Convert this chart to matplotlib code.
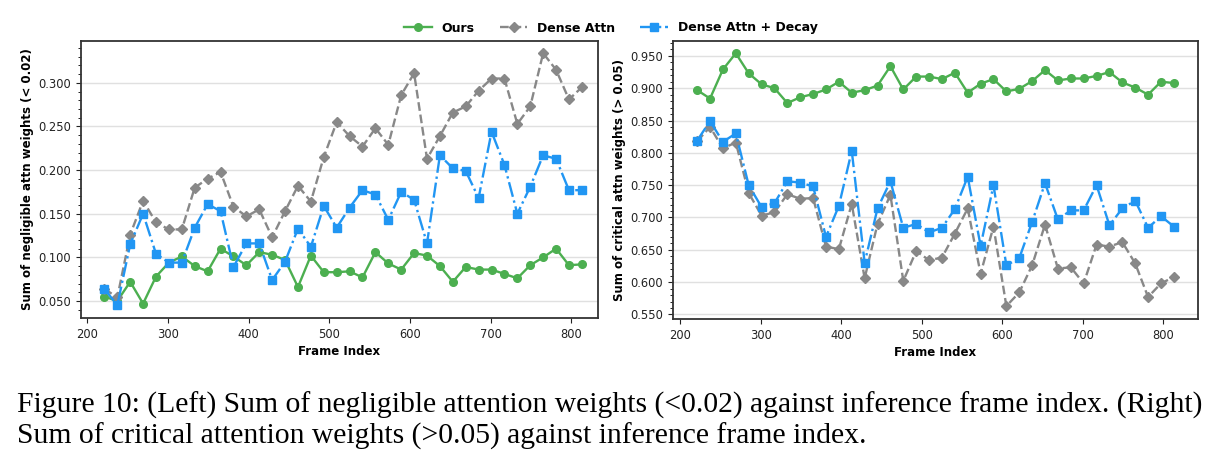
import numpy as np
import matplotlib
matplotlib.use("Agg")
import matplotlib.pyplot as plt
from matplotlib.ticker import MultipleLocator, FormatStrFormatter

# frame indices (38 samples)
frames = [221, 237, 253, 269, 285, 301, 317, 333, 349, 365, 381, 397, 413,
          429, 445, 461, 477, 493, 509, 525, 541, 557, 573, 589, 605, 621,
          637, 653, 669, 685, 701, 717, 733, 749, 765, 781, 797, 813]

# left: sum of negligible attn weights (< 0.02)
neg_ours = [0.055, 0.050, 0.072, 0.047, 0.078, 0.094, 0.101, 0.090, 0.084, 0.110,
            0.101, 0.091, 0.106, 0.103, 0.097, 0.066, 0.102, 0.083, 0.083, 0.084,
            0.077, 0.106, 0.093, 0.086, 0.105, 0.102, 0.090, 0.072, 0.089, 0.086,
            0.086, 0.081, 0.076, 0.091, 0.100, 0.110, 0.091, 0.092]
neg_dense = [0.064, 0.054, 0.126, 0.165, 0.140, 0.132, 0.132, 0.180, 0.190, 0.198,
             0.158, 0.147, 0.155, 0.123, 0.153, 0.182, 0.164, 0.215, 0.255, 0.239,
             0.227, 0.248, 0.229, 0.286, 0.311, 0.213, 0.239, 0.266, 0.273, 0.291,
             0.305, 0.305, 0.253, 0.273, 0.334, 0.315, 0.281, 0.295]
neg_decay = [0.064, 0.045, 0.115, 0.150, 0.104, 0.094, 0.094, 0.134, 0.161, 0.153,
             0.089, 0.116, 0.116, 0.074, 0.095, 0.133, 0.112, 0.159, 0.134, 0.157,
             0.177, 0.172, 0.143, 0.175, 0.166, 0.116, 0.217, 0.202, 0.199, 0.168,
             0.244, 0.206, 0.150, 0.181, 0.217, 0.213, 0.177, 0.177]

# right: sum of critical attn weights (> 0.05)
crit_ours = [0.897, 0.884, 0.929, 0.954, 0.923, 0.906, 0.900, 0.877, 0.886, 0.891,
             0.898, 0.910, 0.893, 0.897, 0.904, 0.934, 0.898, 0.918, 0.918, 0.914,
             0.924, 0.893, 0.907, 0.914, 0.895, 0.899, 0.911, 0.928, 0.912, 0.915,
             0.915, 0.919, 0.925, 0.909, 0.901, 0.890, 0.910, 0.908]
crit_dense = [0.818, 0.840, 0.807, 0.816, 0.738, 0.703, 0.708, 0.736, 0.729, 0.730,
              0.655, 0.651, 0.721, 0.606, 0.690, 0.735, 0.602, 0.648, 0.634, 0.638,
              0.675, 0.714, 0.613, 0.686, 0.563, 0.584, 0.626, 0.689, 0.621, 0.623,
              0.598, 0.658, 0.655, 0.662, 0.629, 0.577, 0.598, 0.608]
crit_decay = [0.819, 0.849, 0.817, 0.830, 0.750, 0.716, 0.722, 0.756, 0.754, 0.748,
              0.670, 0.718, 0.803, 0.630, 0.714, 0.756, 0.684, 0.690, 0.677, 0.684,
              0.713, 0.763, 0.656, 0.750, 0.626, 0.637, 0.693, 0.753, 0.697, 0.711,
              0.711, 0.750, 0.688, 0.714, 0.726, 0.684, 0.702, 0.686]

labels = ["Ours", "Dense Attn", "Dense Attn + Decay"]
colors = ["#4caf50", "#888888", "#2196f3"]
styles = [("-", "o", 5.5), ("--", "D", 5.5), ("-.", "s", 5.5)]

fig = plt.figure(figsize=(12.22, 4.69), dpi=100)
ax_l = fig.add_axes([81 / 1222, 1 - 318 / 469, 517 / 1222, 277 / 469])
ax_r = fig.add_axes([673 / 1222, 1 - 319 / 469, 525 / 1222, 278 / 469])


def draw(ax, series, ylabel):
    for ys, lab, c, (ls, mk, ms) in zip(series, labels, colors, styles):
        ax.plot(frames, ys, linestyle=ls, marker=mk, markersize=ms, color=c,
                linewidth=1.7, label=lab)
    ax.grid(True, axis="y", color="#e0e0e0", linewidth=1.0)
    ax.set_axisbelow(True)
    ax.xaxis.set_major_locator(MultipleLocator(100))
    ax.yaxis.set_minor_locator(MultipleLocator(0.01))
    ax.yaxis.set_major_formatter(FormatStrFormatter("%.3f"))
    ax.tick_params(labelsize=8.3, colors="#222222", length=3.5)
    ax.tick_params(which="minor", length=2)
    for sp in ax.spines.values():
        sp.set_color("#333333")
        sp.set_linewidth(1.3)
    ax.set_xlabel("Frame Index", fontsize=8.5, fontweight="bold", labelpad=3)
    ax.set_ylabel(ylabel, fontsize=8.5, fontweight="bold", labelpad=3)


draw(ax_l, [neg_ours, neg_dense, neg_decay], "Sum of negligible attn weights (< 0.02)")
ax_l.set_xlim(192, 833)
ax_l.set_ylim(0.0305, 0.348)
ax_l.yaxis.set_major_locator(MultipleLocator(0.05))

draw(ax_r, [crit_ours, crit_dense, crit_decay], "Sum of critical attn weights (> 0.05)")
ax_r.set_xlim(191, 843)
ax_r.set_ylim(0.543, 0.973)
ax_r.yaxis.set_major_locator(MultipleLocator(0.05))

handles, labs = ax_l.get_legend_handles_labels()
fig.legend(handles, labs, loc="center", bbox_to_anchor=(0.5, 1 - 28 / 469), ncol=3,
           frameon=False, prop={"size": 9, "weight": "bold"}, columnspacing=2.0,
           handlelength=2.2)

cap_font = {"family": "Liberation Serif", "size": 21.3}
fig.text(0.014, 1 - 405 / 469, "Figure 10: (Left) Sum of negligible attention weights (<0.02) "
         "against inference frame index. (Right)", ha="left", va="center", **cap_font)
fig.text(0.014, 1 - 436 / 469, "Sum of critical attention weights (>0.05) against "
         "inference frame index.", ha="left", va="center", **cap_font)

fig.savefig("out.png", dpi=100, facecolor="white")
